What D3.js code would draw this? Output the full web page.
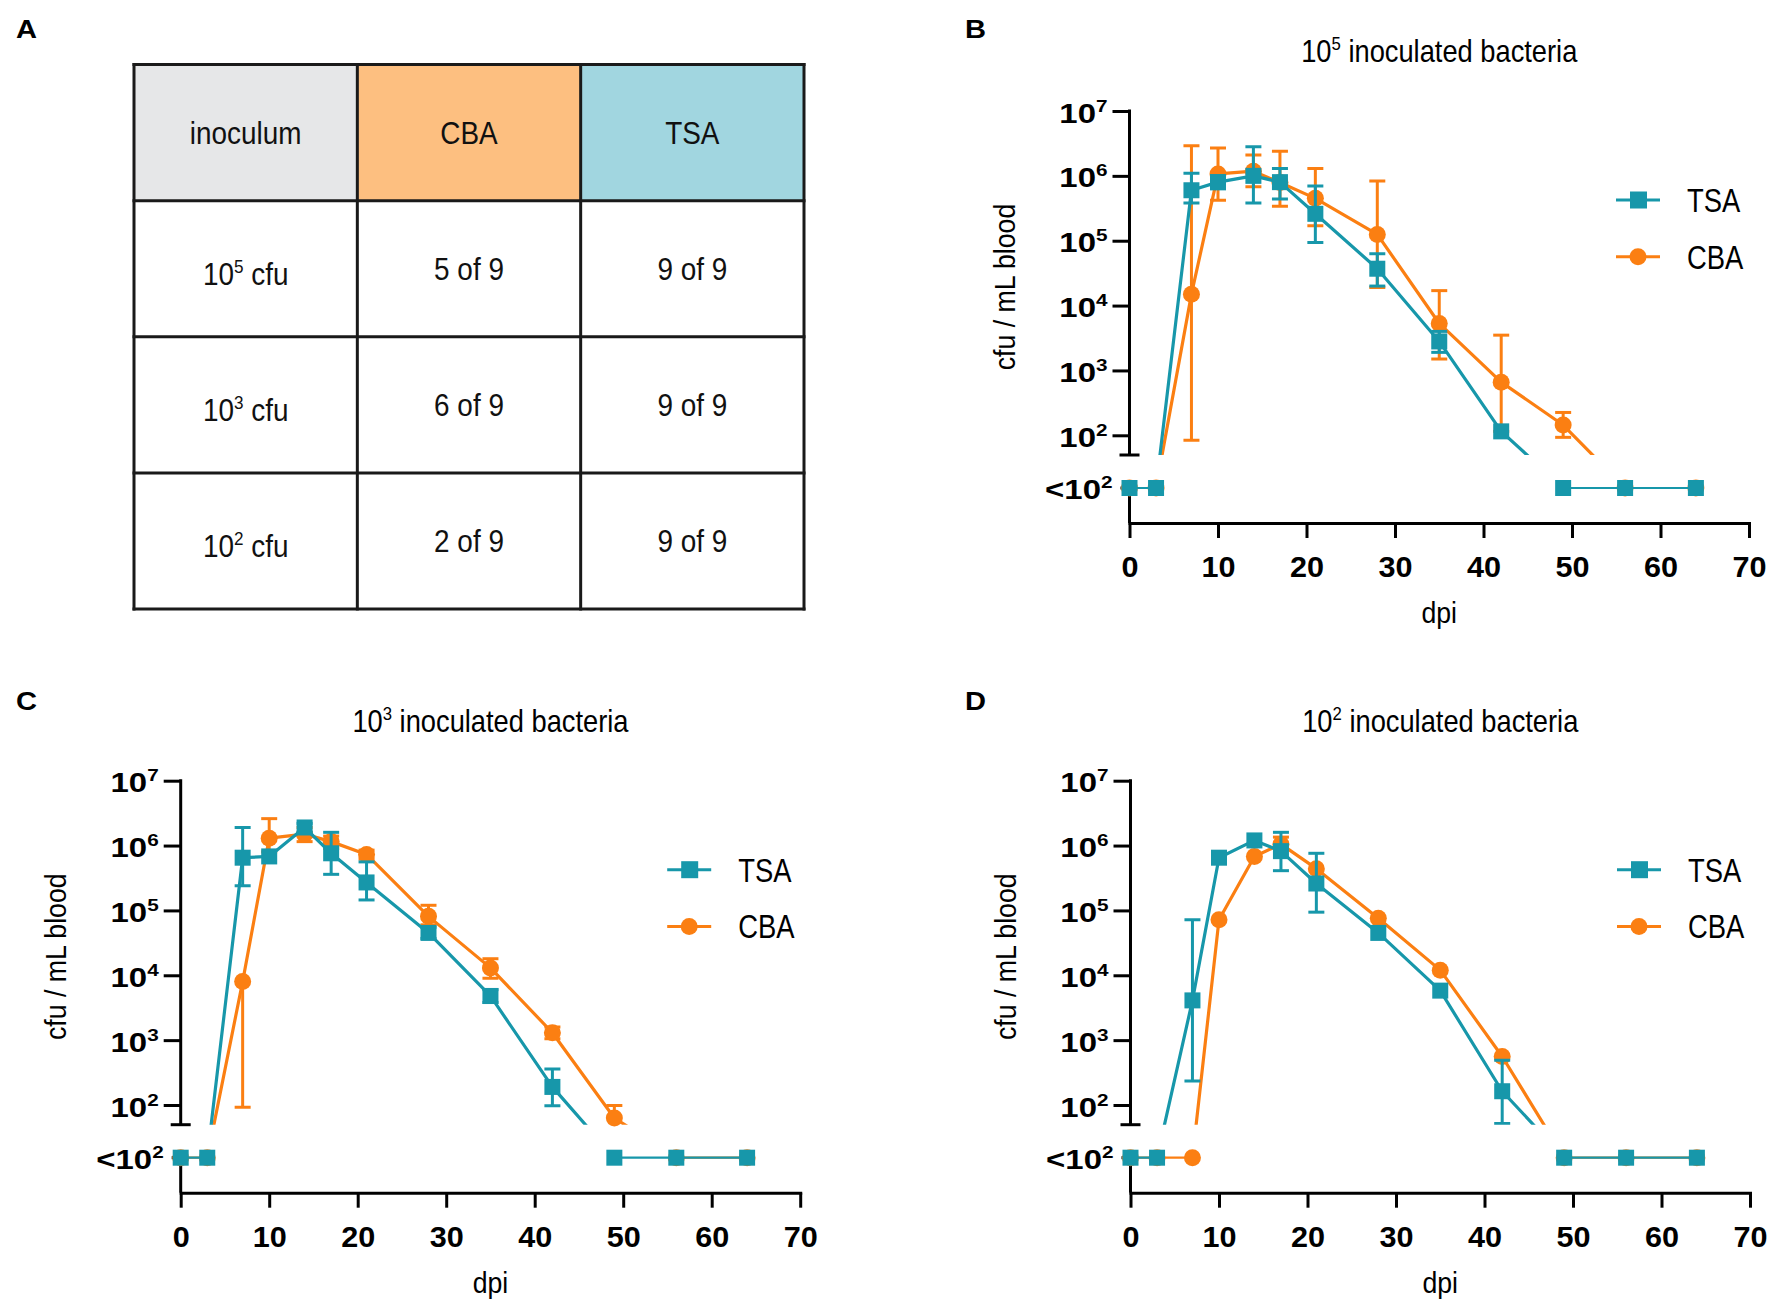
<!DOCTYPE html>
<html>
<head>
<meta charset="utf-8">
<script src="https://cdn.jsdelivr.net/npm/d3@7"></script>
<style>
  body { margin: 0; background: #fff; }
  svg { font-family: "Liberation Sans", Arial, sans-serif; }
  .axis path, .axis line { stroke: #000; stroke-width: 3; }
</style>
</head>
<body>
<div id="figure"></div>
<script>
// ---- data ----
const days = [0, 3, 7, 10, 14, 17, 21, 28, 35, 42, 49, 56, 64];
const xTicks = [0, 10, 20, 30, 40, 50, 60, 70];
const yTicks = [1e2, 1e3, 1e4, 1e5, 1e6, 1e7];
const seriesNames = ["TSA", "CBA"];

// null = below detection (<10^2)
const tsa5 = [null, null, 6.0e5, 8.0e5, 1.0e6, 8.0e5, 2.6e5, 3.7e4, 2.8e3, 115, null, null, null];
const tsa5Hi = [null, null, 1.1e6, 1.0e6, 2.8e6, 1.3e6, 7.0e5, 6.3e4, 4.0e3, null, null, null, null];
const tsa5Lo = [null, null, 3.8e5, 6.3e5, 3.8e5, 4.4e5, 9.4e4, 2.0e4, 1.9e3, null, null, null, null];
const cba5 = [null, null, 1.5e4, 1.07e6, 1.18e6, 7.9e5, 4.5e5, 1.25e5, 5.3e3, 660, 144, null, null];
const cba5Hi = [null, null, 2.9e6, 2.7e6, 2.1e6, 2.4e6, 1.3e6, 8.3e5, 1.7e4, 3.5e3, 225, null, null];
const cba5Lo = [null, null, 84, 4.2e5, 6.8e5, 3.4e5, 1.7e5, 1.9e4, 1.5e3, 115, 93, null, null];

const tsa3 = [null, null, 6.5e5, 6.8e5, 1.9e6, 7.6e5, 2.7e5, 4.5e4, 4.8e3, 190, null, null, null];
const tsa3Hi = [null, null, 1.9e6, null, 2.2e6, 1.6e6, 5.6e5, 5.5e4, 6.0e3, 360, null, null, null];
const tsa3Lo = [null, null, 2.4e5, null, 1.6e6, 3.6e5, 1.45e5, 3.7e4, 3.8e3, 97, null, null, null];
const cba3 = [null, null, 8.0e3, 1.3e6, 1.5e6, 1.15e6, 7.3e5, 8.1e4, 1.3e4, 1.3e3, 63, null, null];
const cba3Hi = [null, null, null, 2.6e6, 1.9e6, 1.4e6, 8.5e5, 1.2e5, 1.8e4, 1.6e3, 98, null, null];
const cba3Lo = [null, null, 92, 8.0e5, 1.15e6, 9.0e5, 6.2e5, 6.0e4, 9.0e3, 1.05e3, null, null, null];

const tsa2 = [null, null, 4.1e3, 6.5e5, 1.2e6, 8.2e5, 2.6e5, 4.5e4, 5.8e3, 163, null, null, null];
const tsa2Hi = [null, null, 7.2e4, null, null, 1.6e6, 7.6e5, null, null, 490, null, null, null];
const tsa2Lo = [null, null, 234, null, null, 4.1e5, 9.4e4, null, null, 52, null, null, null];
const cba2 = [null, null, null, 7.2e4, 6.8e5, 1.05e6, 4.4e5, 7.6e4, 1.2e4, 560, null, null, null];
const cba2Hi = [null, null, null, null, null, 1.35e6, null, null, null, null, null, null, null];
const cba2Lo = [null, null, null, null, null, null, null, null, null, null, null, null, null];

// table (panel A)
const tableHeader = ["inoculum", "CBA", "TSA"];
const inoculumExp = ["5", "3", "2"];
const cbaPositive = ["5 of 9", "6 of 9", "2 of 9"];
const tsaPositive = ["9 of 9", "9 of 9", "9 of 9"];

const colTSA = "#1797aa";
const colCBA = "#fb7f12";
const headerFill = ["#e6e7e8", "#fdbf80", "#a1d6e0"];

const svg = d3.select("#figure").append("svg")
  .attr("width", 1775)
  .attr("height", 1308);

// text with a horizontal squeeze/stretch (the figure's fonts are not plain Arial widths)
function label(parent, x, y, opts) {
  const o = Object.assign({ size: 28, weight: "normal", anchor: "start", sx: 1, rotate: 0 }, opts);
  return parent.append("text")
    .attr("transform", `translate(${x},${y})${o.rotate ? `rotate(${o.rotate})` : ""}scale(${o.sx},1)`)
    .attr("text-anchor", o.anchor)
    .style("font-size", `${o.size}px`)
    .style("font-weight", o.weight)
    .attr("fill", "#000");
}

// "10" with raised exponent
function power(t, base, exp, expSize, rise) {
  t.append("tspan").text(base);
  t.append("tspan").attr("dy", -rise).style("font-size", `${expSize}px`).text(exp);
  return t;
}

// panel letters
[["A", 16, 38], ["B", 965, 38], ["C", 16, 710], ["D", 965, 710]].forEach(([t, x, y]) => {
  label(svg, x, y, { size: 26, weight: "bold", sx: 1.12 }).text(t);
});

/**
 * Panel A: detection table
 */
function drawTable(parent) {
  const cols = d3.range(3), rows = d3.range(4);
  const xBand = d3.scaleBand().domain(cols).range([134, 804]);
  const yBand = d3.scaleBand().domain(rows).range([64.5, 609]);
  const g = parent.append("g");

  const cellText = (r, c) => {
    if (r === 0) return tableHeader[c];
    if (c === 1) return cbaPositive[r - 1];
    if (c === 2) return tsaPositive[r - 1];
    return null;
  };

  rows.forEach(r => cols.forEach(c => {
    g.append("rect")
      .attr("x", xBand(c)).attr("y", yBand(r))
      .attr("width", xBand.bandwidth()).attr("height", yBand.bandwidth())
      .attr("fill", r === 0 ? headerFill[c] : "#fff");

    const cx = xBand(c) + xBand.bandwidth() / 2;
    const cy = yBand(r) + yBand.bandwidth() / 2;
    if (r > 0 && c === 0) {
      const t = label(g, cx, cy + 16, { size: 31, anchor: "middle", sx: 0.9 }).attr("fill", "#111");
      power(t, "10", inoculumExp[r - 1], 19, 12);
      t.append("tspan").attr("dy", 12).text(" cfu");
    } else {
      label(g, cx, cy + 11, { size: 31, anchor: "middle", sx: 0.9 }).attr("fill", "#111").text(cellText(r, c));
    }
  }));

  // grid lines
  const xs = cols.map(c => xBand(c)).concat([xBand.range()[1]]);
  const ys = rows.map(r => yBand(r)).concat([yBand.range()[1]]);
  xs.forEach(x => g.append("line").attr("x1", x).attr("x2", x).attr("y1", ys[0] - 1.5).attr("y2", ys[4] + 1.5)
    .attr("stroke", "#1a1a1a").attr("stroke-width", 3));
  ys.forEach(y => g.append("line").attr("x1", xs[0] - 1.5).attr("x2", xs[3] + 1.5).attr("y1", y).attr("y2", y)
    .attr("stroke", "#1a1a1a").attr("stroke-width", 3));
}

/**
 * Panels B-D: cfu time course with a broken log axis
 */
class CfuChart {
  constructor(_config, _data) {
    this.config = {
      parent: _config.parent,
      id: _config.id,
      left: _config.left,
      top: _config.top,
      width: 619.5,
      titleExp: _config.titleExp,
    };
    this.data = _data;
    this.initVis();
  }

  initVis() {
    let vis = this;

    vis.upperHeight = 324.3;   // 10^7 .. 10^2
    vis.breakY = 344;          // end of upper segment
    vis.lowTop = 373;          // start of lower segment
    vis.lowY = 377;            // "<10^2" level
    vis.axisY = 412;           // x axis

    vis.xScale = d3.scaleLinear().domain([0, 70]).range([0, vis.config.width]);
    vis.yScale = d3.scaleLog().domain([1e2, 1e7]).range([vis.upperHeight, 0]);

    vis.chart = vis.config.parent.append("g")
      .attr("transform", `translate(${vis.config.left},${vis.config.top})`);

    vis.chart.append("defs").append("clipPath")
      .attr("id", `clip-${vis.config.id}`)
      .append("rect")
      .attr("x", -30).attr("y", -40)
      .attr("width", vis.config.width + 60)
      .attr("height", vis.breakY + 40);

    // title
    const title = label(vis.chart, vis.config.width / 2, -49, { size: 31, anchor: "middle", sx: 0.88 });
    power(title, "10", vis.config.titleExp, 19, 12);
    title.append("tspan").attr("dy", 12).text(" inoculated bacteria");

    // axis labels
    label(vis.chart, -115, 176, { size: 29, anchor: "middle", sx: 0.92, rotate: -90 }).text("cfu / mL blood");
    label(vis.chart, vis.config.width / 2, vis.axisY + 100, { size: 29, anchor: "middle", sx: 0.92 }).text("dpi");

    vis.renderAxes();
    vis.renderSeries("CBA", colCBA, vis.data.CBA, "circle");
    vis.renderSeries("TSA", colTSA, vis.data.TSA, "square");
    vis.renderLegend();
  }

  renderAxes() {
    let vis = this;

    const xAxis = d3.axisBottom(vis.xScale)
      .tickValues(xTicks)
      .tickSize(15)
      .tickSizeOuter(0);

    const xg = vis.chart.append("g")
      .attr("class", "axis x-axis")
      .attr("transform", `translate(0,${vis.axisY})`)
      .call(xAxis)
      .call(g => g.select(".domain").attr("stroke-linecap", "square"));
    xg.selectAll(".tick text").remove();
    xg.selectAll(".tick").each(function (d) {
      label(d3.select(this), 0, 54, { size: 30, weight: "bold", anchor: "middle", sx: 1.02 }).text(d);
    });

    const yAxis = d3.axisLeft(vis.yScale)
      .tickValues(yTicks)
      .tickSize(17)
      .tickSizeOuter(0);

    const yg = vis.chart.append("g")
      .attr("class", "axis y-axis")
      .call(yAxis);
    yg.select(".domain").remove();
    yg.selectAll(".tick text").remove();
    yg.selectAll(".tick").each(function (d) {
      const t = label(d3.select(this), -22, 11, { size: 27, weight: "bold", anchor: "end", sx: 1.22 });
      power(t, "10", Math.round(Math.log10(d)), 17, 11);
    });

    // upper segment with break marker
    yg.append("line").attr("x1", 0).attr("x2", 0).attr("y1", -1.5).attr("y2", vis.breakY)
      .attr("stroke", "#000").attr("stroke-width", 3);
    yg.append("line").attr("x1", -10).attr("x2", 10).attr("y1", vis.breakY).attr("y2", vis.breakY)
      .attr("stroke", "#000").attr("stroke-width", 3);

    // lower segment
    yg.append("line").attr("x1", 0).attr("x2", 0).attr("y1", vis.lowTop).attr("y2", vis.axisY)
      .attr("stroke", "#000").attr("stroke-width", 3);
    yg.append("line").attr("x1", -9).attr("x2", 0).attr("y1", vis.lowY).attr("y2", vis.lowY)
      .attr("stroke", "#000").attr("stroke-width", 3);
    const low = label(yg, -17, vis.lowY + 11, { size: 27, weight: "bold", anchor: "end", sx: 1.22 });
    power(low, "<10", "2", 17, 11);
  }

  yPos(v) {
    return v === null ? this.lowY : this.yScale(v);
  }

  renderSeries(name, colour, s, shape) {
    let vis = this;

    const pts = days.map((day, i) => ({ day, v: s.v[i], hi: s.hi[i], lo: s.lo[i] }));
    const g = vis.chart.append("g").attr("class", `series-${name}`);

    // line through every point, clipped so segments into the "<10^2" band stop at the break
    const line = d3.line().x(d => vis.xScale(d.day)).y(d => vis.yPos(d.v));
    g.append("path")
      .datum(pts)
      .attr("d", line)
      .attr("fill", "none")
      .attr("stroke", colour)
      .attr("stroke-width", 3.2)
      .attr("stroke-linejoin", "round")
      .attr("clip-path", `url(#clip-${vis.config.id})`);

    // below-detection runs
    g.append("path")
      .datum(pts)
      .attr("d", line.defined(d => d.v === null))
      .attr("fill", "none")
      .attr("stroke", colour)
      .attr("stroke-width", 2.2);

    // error bars
    const eg = g.append("g").attr("clip-path", `url(#clip-${vis.config.id})`);
    pts.filter(d => d.v !== null && (d.hi !== null || d.lo !== null)).forEach(d => {
      const x = vis.xScale(d.day);
      const yTop = vis.yScale(d.hi !== null ? d.hi : d.v);
      const yBot = vis.yScale(d.lo !== null ? d.lo : d.v);
      eg.append("line").attr("x1", x).attr("x2", x).attr("y1", yTop).attr("y2", yBot)
        .attr("stroke", colour).attr("stroke-width", 3);
      [d.hi !== null ? yTop : null, d.lo !== null ? yBot : null].filter(y => y !== null).forEach(y => {
        eg.append("line").attr("x1", x - 8).attr("x2", x + 8).attr("y1", y).attr("y2", y)
          .attr("stroke", colour).attr("stroke-width", 3);
      });
    });

    // markers
    if (shape === "square") {
      g.selectAll(".pt").data(pts).join("rect")
        .attr("class", "pt")
        .attr("x", d => vis.xScale(d.day) - 8)
        .attr("y", d => vis.yPos(d.v) - 8)
        .attr("width", 16).attr("height", 16)
        .attr("fill", colour);
    } else {
      g.selectAll(".pt").data(pts).join("circle")
        .attr("class", "pt")
        .attr("cx", d => vis.xScale(d.day))
        .attr("cy", d => vis.yPos(d.v))
        .attr("r", 8.5)
        .attr("fill", colour);
    }
  }

  renderLegend() {
    let vis = this;
    const lg = vis.chart.append("g").attr("transform", "translate(486.5,89)");
    seriesNames.forEach((name, i) => {
      const colour = name === "TSA" ? colTSA : colCBA;
      const row = lg.append("g").attr("transform", `translate(0,${i * 56.7})`);
      row.append("line").attr("x1", 0).attr("x2", 44).attr("stroke", colour).attr("stroke-width", 3);
      if (name === "TSA") {
        row.append("rect").attr("x", 14).attr("y", -8.5).attr("width", 17).attr("height", 17).attr("fill", colour);
      } else {
        row.append("circle").attr("cx", 22).attr("r", 8.5).attr("fill", colour);
      }
      label(row, 71, 12, { size: 33, sx: 0.83 }).text(name);
    });
  }
}

drawTable(svg);

new CfuChart({ parent: svg, id: "B", left: 1129.5, top: 111, titleExp: "5" }, {
  TSA: { v: tsa5, hi: tsa5Hi, lo: tsa5Lo },
  CBA: { v: cba5, hi: cba5Hi, lo: cba5Lo },
});
new CfuChart({ parent: svg, id: "C", left: 180.7, top: 780.7, titleExp: "3" }, {
  TSA: { v: tsa3, hi: tsa3Hi, lo: tsa3Lo },
  CBA: { v: cba3, hi: cba3Hi, lo: cba3Lo },
});
new CfuChart({ parent: svg, id: "D", left: 1130.5, top: 780.7, titleExp: "2" }, {
  TSA: { v: tsa2, hi: tsa2Hi, lo: tsa2Lo },
  CBA: { v: cba2, hi: cba2Hi, lo: cba2Lo },
});
</script>
</body>
</html>
